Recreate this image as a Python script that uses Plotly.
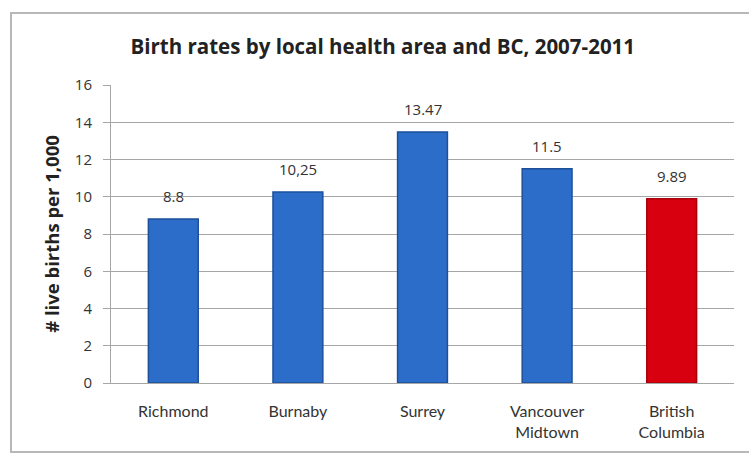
import plotly.graph_objects as go

# Birth rates (live births per 1,000) by local health area, 2007-2011
areas = ["Richmond", "Burnaby", "Surrey", "Vancouver<br>Midtown", "British<br>Columbia"]
rates = [8.8, 10.25, 13.47, 11.5, 9.89]
rate_labels = ["8.8", "10,25", "13.47", "11.5", "9.89"]
y_ticks = [0, 2, 4, 6, 8, 10, 12, 14, 16]

FONT = "Lato, 'Open Sans', sans-serif"
WIDE = "'Open Sans', Lato, sans-serif"
fill_colors = ["#2b6dc8", "#2b6dc8", "#2b6dc8", "#2b6dc8", "#d8000e"]
edge_colors = ["#1d4f9a", "#1d4f9a", "#1d4f9a", "#1d4f9a", "#a8000a"]

fig = go.Figure()
fig.add_trace(go.Bar(
    x=areas,
    y=rates,
    width=0.4,
    marker=dict(color=fill_colors, line=dict(color=edge_colors, width=1.5)),
    hoverinfo="skip",
))

# Value labels above each bar
for a, v, t in zip(areas, rates, rate_labels):
    fig.add_annotation(
        x=a, y=v, text=t, showarrow=False, yanchor="bottom", yshift=11,
        font=dict(family=WIDE, size=15, color="#333333"),
    )

# Outer chart frame
fig.add_shape(
    type="rect", xref="paper", yref="paper",
    x0=-0.1605, x1=1.05, y0=-0.2315, y1=1.2416,
    line=dict(color="#b8b8b8", width=2), layer="below",
)

fig.update_layout(
    width=749, height=455,
    margin=dict(l=111, r=15, t=85, b=72),
    paper_bgcolor="white", plot_bgcolor="white",
    showlegend=False,
    bargap=0.6,
    title=dict(
        text="<b>Birth rates by local health area and BC, 2007-2011</b>",
        x=0.511, xanchor="center", y=1 - 47 / 455, yanchor="middle",
        font=dict(family=WIDE, size=20.5, color="#222222"),
    ),
    xaxis=dict(
        showgrid=False, showline=True, linecolor="#a6a6a6", linewidth=1,
        ticks="", ticklabelstandoff=14,
        tickfont=dict(family=FONT, size=16, color="#333333"),
        fixedrange=True,
    ),
    yaxis=dict(
        range=[0, 16], tickvals=y_ticks, showgrid=True, gridcolor="#a6a6a6",
        gridwidth=1, showline=True, linecolor="#a6a6a6", linewidth=1,
        ticks="outside", ticklen=7, tickcolor="#a6a6a6", ticklabelstandoff=8,
        tickfont=dict(family=WIDE, size=15, color="#333333"),
        title=dict(text="<b># live births per 1,000</b>", standoff=10,
                   font=dict(family=WIDE, size=18.5, color="#222222")),
        zeroline=False, fixedrange=True,
    ),
)

fig.write_html("out.html")
